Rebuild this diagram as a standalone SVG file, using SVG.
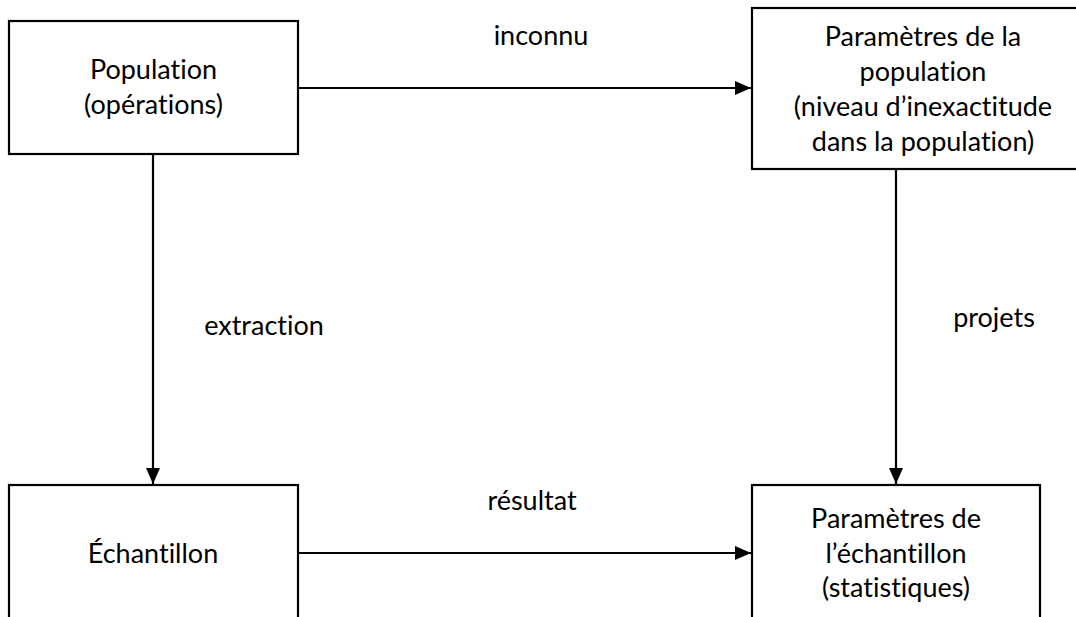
<svg xmlns="http://www.w3.org/2000/svg" width="1076" height="617" viewBox="0 0 1076 617">
  <style>
    .box { fill: #ffffff; stroke: #000000; stroke-width: 2.2; }
    .link { fill: none; stroke: #000000; stroke-width: 2.2; }
    text { font-family: Lato, "Open Sans", "Liberation Sans", sans-serif; font-size: 27px; fill: #000000; font-variant-ligatures: none; font-feature-settings: "liga" 0, "clig" 0; }
    .c { text-anchor: middle; }
  </style>
  <defs>
    <marker id="arrow" viewBox="0 0 16 14" refX="16" refY="7" markerWidth="16" markerHeight="14" markerUnits="userSpaceOnUse" orient="auto">
      <path d="M0,0 L16,7 L0,14 Z" fill="#000000"/>
    </marker>
  </defs>
  <rect width="1076" height="617" fill="#ffffff"/>

  <!-- connectors -->
  <g id="connectors">
    <line class="link" x1="298" y1="88" x2="751" y2="88" marker-end="url(#arrow)"/>
    <text class="c" x="541" y="45">inconnu</text>
    <line class="link" x1="153" y1="154" x2="153" y2="484" marker-end="url(#arrow)"/>
    <text class="c" x="264" y="335">extraction</text>
    <line class="link" x1="896" y1="169" x2="896" y2="484" marker-end="url(#arrow)"/>
    <text class="c" x="994" y="327">projets</text>
    <line class="link" x1="298" y1="553" x2="751" y2="553" marker-end="url(#arrow)"/>
    <text class="c" x="532" y="510">résultat</text>
  </g>

  <!-- population -->
  <g id="population">
    <rect class="box" x="9" y="21" width="289" height="133"/>
    <text class="c" x="153.5" y="79">Population</text>
    <text class="c" x="153.5" y="114">(opérations)</text>
  </g>

  <!-- population parameters -->
  <g id="parametres-population">
    <rect class="box" x="752" y="8" width="340" height="161"/>
    <text class="c" x="923" y="46">Paramètres de la</text>
    <text class="c" x="923" y="81">population</text>
    <text class="c" x="923" y="116">(niveau d’inexactitude</text>
    <text class="c" x="923" y="151">dans la population)</text>
  </g>

  <!-- sample -->
  <g id="echantillon">
    <rect class="box" x="9" y="485" width="289" height="150"/>
    <text class="c" x="153" y="563">Échantillon</text>
  </g>

  <!-- sample parameters -->
  <g id="parametres-echantillon">
    <rect class="box" x="752" y="485" width="288" height="150"/>
    <text class="c" x="896" y="528">Paramètres de</text>
    <text class="c" x="896" y="563">l’échantillon</text>
    <text class="c" x="896" y="597">(statistiques)</text>
  </g>
</svg>
